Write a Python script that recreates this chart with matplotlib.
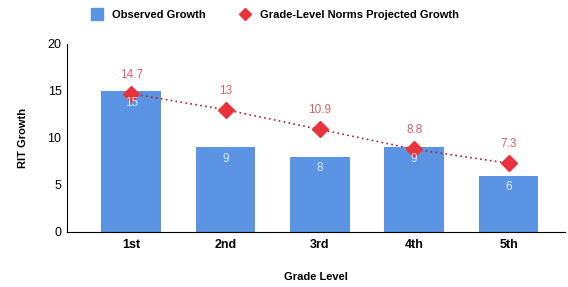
import numpy as np
import matplotlib.pyplot as plt
from matplotlib.lines import Line2D

plt.rcParams['font.family'] = ['Liberation Sans', 'DejaVu Sans']

grades = ["1st", "2nd", "3rd", "4th", "5th"]
observed = [15, 9, 8, 9, 6]
projected = [14.7, 13, 10.9, 8.8, 7.3]
proj_labels = ["14.7", "13", "10.9", "8.8", "7.3"]

bar_col = "#5b94e3"
red = "#e8323c"

fig = plt.figure(figsize=(5.68, 2.87), dpi=100)
ax = fig.add_axes([0.118, 0.192, 0.877, 0.655])
x = np.arange(len(grades))

ax.bar(x, observed, width=0.63, color=bar_col, zorder=2)
ax.plot(x, projected, color="#b02030", linestyle=(0, (1, 2)), linewidth=1.2, zorder=3)
ax.plot(x, projected, linestyle="none", marker="D", markersize=8, color=red, zorder=4)

for xi, v in zip(x, observed):
    ax.text(xi, v - 0.6, str(v), ha="center", va="top", color="#dce8fb", fontsize=8.5, zorder=5)
for xi, v, lab in zip(x, projected, proj_labels):
    ax.text(xi, v + 1.4, lab, ha="center", va="bottom", color="#d9606a", fontsize=8.5, zorder=5)

ax.set_xlim(-0.68, 4.6)
ax.set_ylim(0, 20)
ax.set_yticks([0, 5, 10, 15, 20])
ax.set_xticks(x)
ax.set_xticklabels(grades, fontweight="bold", fontsize=8.5)
ax.tick_params(axis="both", length=0, labelsize=9, pad=5)
ax.tick_params(axis="y", pad=4)
for s in ["top", "right"]:
    ax.spines[s].set_visible(False)
ax.spines["left"].set_linewidth(0.8)
ax.spines["bottom"].set_linewidth(0.8)
ax.set_xlabel("Grade Level", fontweight="bold", fontsize=8, labelpad=15)
ax.set_ylabel("RIT Growth", fontweight="bold", fontsize=8, labelpad=14)

handles = [
    Line2D([], [], marker="s", linestyle="none", color=bar_col, markersize=8),
    Line2D([], [], marker="D", linestyle="none", color=red, markersize=6),
]
fig.legend(handles, ["Observed Growth", "Grade-Level Norms Projected Growth"],
           loc="upper left", bbox_to_anchor=(0.133, 1.0), ncol=2, frameon=False,
           prop={"weight": "bold", "size": 8}, handletextpad=0.4, columnspacing=2.5)

fig.savefig("out.png", dpi=100)
